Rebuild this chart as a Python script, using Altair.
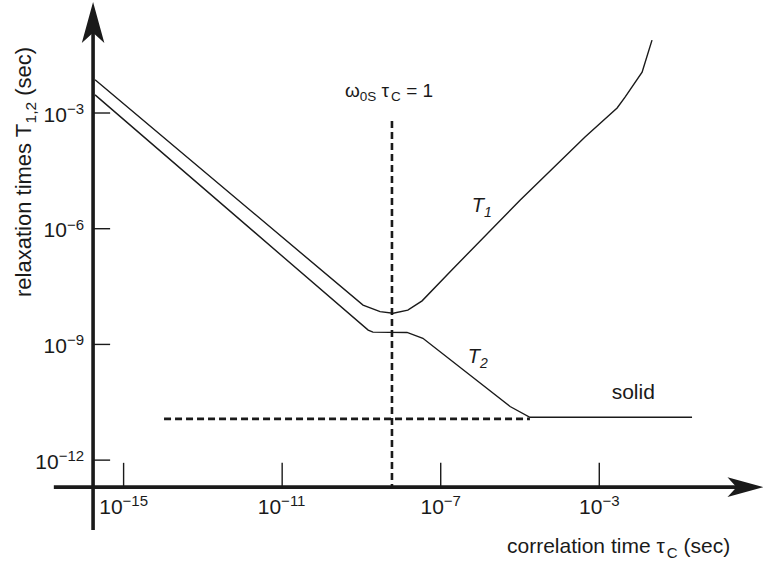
import altair as alt
import pandas as pd

FONT = "Liberation Sans"
INK = "#1a1a1a"

# ---- curve vertices, log10 of seconds ----
t1_log_tau = [-15.72, -8.96, -8.53, -8.20, -7.83, -7.47, -6.72, -5.00, -3.36, -2.55, -2.35, -1.92, -1.67]
t1_log_t = [-2.14, -7.98, -8.15, -8.19, -8.11, -7.87, -7.07, -5.26, -3.62, -2.87, -2.59, -1.94, -1.11]

t2_log_tau = [-15.72, -8.83, -8.71, -7.85, -7.45, -5.25, -4.75, -0.66]
t2_log_t = [-2.53, -8.63, -8.68, -8.69, -8.84, -10.61, -10.89, -10.89]

# rigid-lattice limit of T2 (dashed) and the omega*tau = 1 marker
rigid_log_t = -10.93
rigid_log_tau_span = [-13.98, -4.75]
larmor_log_tau = -8.23
larmor_log_t_span = [-3.21, -12.70]

x_tick_exps = [-15, -11, -7, -3]
y_tick_exps = [-3, -6, -9, -12]

# ---- frame of the drawing (decades) ----
X_DOMAIN = [-18.118, 1.130]
Y_DOMAIN = [-14.719, -0.070]
AXIS_TAU = -15.77      # where the vertical axis stands
AXIS_T = -12.70        # where the horizontal axis lies
Y_AXIS_SPAN = [-13.81, -0.60]
X_AXIS_SPAN = [-16.76, 0.62]
Y_TICK_END = -15.34
X_TICK_END = -12.07
Y_ARROW_AT = -0.654
X_ARROW_AT = 0.689

ARROW = "M0,-1L0.55,1L0,0.5L-0.55,1Z"

# Arial / Liberation Sans advance widths (per 1000 em)
ADV = {" ": 278, "(": 333, ")": 333, ",": 278, "=": 584, "\u2212": 584,
       "a": 556, "c": 500, "d": 556, "e": 556, "i": 222, "l": 222, "m": 833,
       "n": 556, "o": 556, "r": 333, "s": 500, "t": 278, "x": 500,
       "C": 722, "S": 667, "T": 611, "\u03c4": 500, "\u03c9": 780}
for d in "0123456789":
    ADV[d] = 556


def text_width(s, size):
    return sum(ADV.get(c, 556) for c in s) * size / 1000.0


xs = alt.Scale(domain=X_DOMAIN, nice=False, zero=False)
ys = alt.Scale(domain=Y_DOMAIN, nice=False, zero=False)


def X(field):
    return alt.X(f"{field}:Q", scale=xs, axis=None)


def Y(field):
    return alt.Y(f"{field}:Q", scale=ys, axis=None)


def rich_text(pieces, tau, t, start_dx=0.0, angle=0):
    """Runs of text set one after another, each with its own size/shift.
    Leading blanks are turned into offset, since SVG drops them."""
    layers = []
    offset = start_dx
    for text, size, shift, style in pieces:
        body = text.lstrip(" ")
        lead = text_width(text[: len(text) - len(body)], size)
        df = pd.DataFrame({"tau": [tau], "t": [t], "label": [body]})
        layers.append(
            alt.Chart(df).mark_text(
                align="left", baseline="alphabetic", dx=offset + lead, dy=shift,
                angle=angle, font=FONT, fontSize=size, fontStyle=style, color=INK,
            ).encode(x=X("tau"), y=Y("t"), text="label:N")
        )
        offset += text_width(text, size)
    return layers


layers = []

# ---- axes ----
axes_df = pd.DataFrame({
    "tau": [AXIS_TAU, X_AXIS_SPAN[0]],
    "tau2": [AXIS_TAU, X_AXIS_SPAN[1]],
    "t": [Y_AXIS_SPAN[0], AXIS_T],
    "t2": [Y_AXIS_SPAN[1], AXIS_T],
})
layers.append(
    alt.Chart(axes_df).mark_rule(color=INK, strokeWidth=3.6).encode(
        x=X("tau"), x2="tau2:Q", y=Y("t"), y2="t2:Q")
)

ytick_df = pd.DataFrame({"tau": AXIS_TAU, "tau2": Y_TICK_END, "t": y_tick_exps})
layers.append(
    alt.Chart(ytick_df).mark_rule(color=INK, strokeWidth=1.4).encode(
        x=X("tau"), x2="tau2:Q", y=Y("t"))
)
xtick_df = pd.DataFrame({"tau": x_tick_exps, "t": AXIS_T, "t2": X_TICK_END})
layers.append(
    alt.Chart(xtick_df).mark_rule(color=INK, strokeWidth=1.4).encode(
        x=X("tau"), y=Y("t"), y2="t2:Q")
)

layers.append(
    alt.Chart(pd.DataFrame({"tau": [AXIS_TAU], "t": [Y_ARROW_AT]})).mark_point(
        shape=ARROW, filled=True, size=1681, color=INK, opacity=1, strokeWidth=0
    ).encode(x=X("tau"), y=Y("t"))
)
layers.append(
    alt.Chart(pd.DataFrame({"tau": [X_ARROW_AT], "t": [AXIS_T]})).mark_point(
        shape=ARROW, filled=True, size=1300, angle=90, color=INK, opacity=1, strokeWidth=0
    ).encode(x=X("tau"), y=Y("t"))
)

# tick labels: 10 with a raised exponent
for e in x_tick_exps:
    exp = "\u2212" + str(abs(e))
    total = text_width("10", 21) + text_width(exp, 15)
    layers += rich_text([("10", 21, 27, "normal"), (exp, 15, 19, "normal")],
                        e, AXIS_T, start_dx=-total / 2)
for e in y_tick_exps:
    exp = "\u2212" + str(abs(e))
    total = text_width("10", 21) + text_width(exp, 15)
    layers += rich_text([("10", 21, 8.5, "normal"), (exp, 15, 1, "normal")],
                        AXIS_TAU, e, start_dx=-9 - total)

# ---- reference lines ----
rigid_df = pd.DataFrame({"tau": [rigid_log_tau_span[0]], "tau2": [rigid_log_tau_span[1]],
                         "t": [rigid_log_t]})
layers.append(
    alt.Chart(rigid_df).mark_rule(color=INK, strokeWidth=2.6, strokeDash=[7, 4]).encode(
        x=X("tau"), x2="tau2:Q", y=Y("t"))
)
larmor_df = pd.DataFrame({"tau": [larmor_log_tau], "t": [larmor_log_t_span[0]],
                          "t2": [larmor_log_t_span[1]]})
layers.append(
    alt.Chart(larmor_df).mark_rule(color=INK, strokeWidth=2.6, strokeDash=[7, 4]).encode(
        x=X("tau"), y=Y("t"), y2="t2:Q")
)

# ---- relaxation curves ----
curves = pd.concat([
    pd.DataFrame({"series": "T1", "i": range(len(t1_log_tau)), "tau": t1_log_tau, "t": t1_log_t}),
    pd.DataFrame({"series": "T2", "i": range(len(t2_log_tau)), "tau": t2_log_tau, "t": t2_log_t}),
])
layers.append(
    alt.Chart(curves).mark_line(color=INK, strokeWidth=1.4).encode(
        x=X("tau"), y=Y("t"), detail="series:N", order="i:Q")
)

# ---- annotations ----
layers += rich_text([("\u03c9", 19, 0, "normal"), ("0S", 13.5, 4, "normal"),
                     (" \u03c4", 19, 0, "normal"), ("C", 13.5, 4, "normal"),
                     (" = 1", 19, 0, "normal")], -9.415, -2.585)
layers += rich_text([("T", 20, 0, "italic"), ("1", 14, 5, "italic")], -6.218, -5.559)
layers += rich_text([("T", 20, 0, "italic"), ("2", 14, 5, "italic")], -6.319, -9.474)
layers += rich_text([("solid", 21, 0, "normal")], -2.687, -10.42)

layers += rich_text([("correlation time \u03c4", 21, 0, "normal"), ("C", 15, 5, "normal"),
                     (" (sec)", 21, 0, "normal")], -5.328, -14.41)
layers += rich_text([("relaxation times T", 22, 0, "normal"), ("1,2", 15.5, 5, "normal"),
                     (" (sec)", 22, 0, "normal")], -17.336, -7.77, angle=270)

chart = alt.layer(*layers).properties(
    width=763, height=565, padding=0,
    autosize=alt.AutoSizeParams(type="none"),
    background="white",
).configure_view(stroke=None)

chart.save("out.html", embed_options={"renderer": "svg", "actions": False})
